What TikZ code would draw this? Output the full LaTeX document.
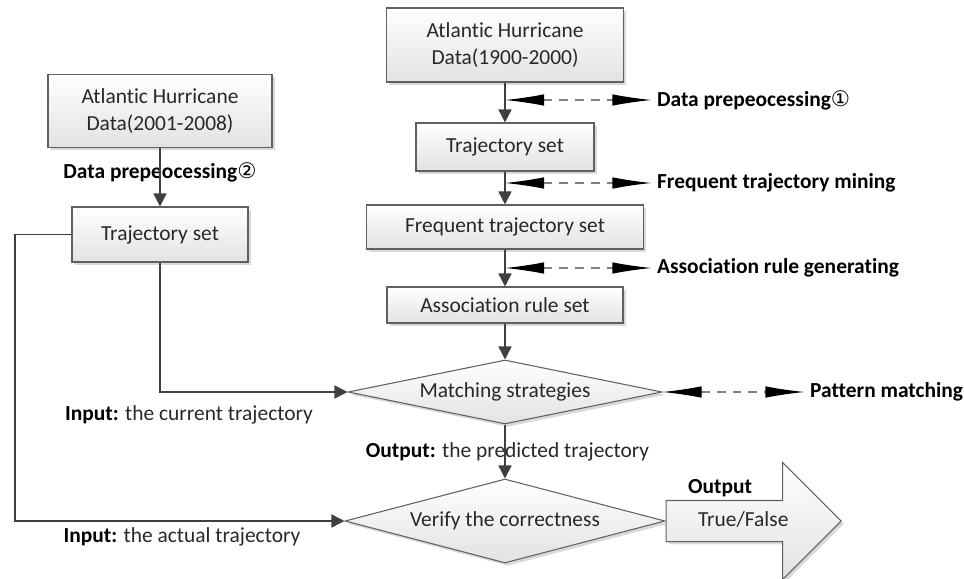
\documentclass[tikz,border=0pt]{standalone}
\usepackage{fontspec}
\setmainfont{Carlito}[Ligatures=NoCommon]
\newfontfamily\circfont{DejaVu Sans}
\usepackage{xcolor}
\usepackage{tikz}
\usetikzlibrary{arrows.meta,calc,positioning,shapes.geometric,shapes.arrows,shadows}
\definecolor{boxline}{RGB}{96,96,96}
\definecolor{boxfill}{RGB}{226,226,226}
\definecolor{flowline}{RGB}{64,64,64}
\definecolor{txt}{RGB}{40,40,40}
\newcommand{\circnum}[1]{{\circfont\mdseries #1}}

\begin{document}
\begin{tikzpicture}[
  font=\fontsize{12.2}{15.5}\selectfont,
  text=txt,
  stepbox/.style={draw=boxline, line width=0.6pt, top color=white, bottom color=boxfill, align=center, inner sep=2pt,
    drop shadow={shadow xshift=1.6pt, shadow yshift=-1.6pt, opacity=0.3}},
  decision/.style={diamond, draw=boxline, line width=0.6pt, top color=white, bottom color=boxfill, inner sep=0pt,
    drop shadow={shadow xshift=1.6pt, shadow yshift=-1.6pt, opacity=0.3}},
  outarrow/.style={single arrow, draw=boxline, line width=0.6pt, top color=white, bottom color=boxfill,
    minimum height=3.5cm, single arrow head extend=0.76cm, single arrow tip angle=90,
    text height=0.3cm, text depth=0.1cm, inner ysep=0.2cm,
    drop shadow={shadow xshift=1.6pt, shadow yshift=-1.6pt, opacity=0.3}},
  flow/.style={draw=flowline, line width=0.9pt, -{Triangle[length=2.6mm, width=2.6mm]}},
  biarrow/.style={draw=gray, line width=0.6pt, dash pattern=on 5pt off 4pt,
    {Latex[length=7.8mm, width=2.3mm, color=black]}-{Latex[length=7.8mm, width=2.3mm, color=black]}},
  steplabel/.style={font=\fontsize{12.2}{15.5}\selectfont\bfseries, text=black, inner sep=1pt},
  note/.style={inner sep=1pt}
]
\useasboundingbox (0,0) rectangle (19.28,-11.58);

% Right column: mining the rule base
\node[stepbox, minimum width=4.74cm, minimum height=1.48cm] (r1) at (10.1,-0.9) {Atlantic Hurricane\\Data(1900-2000)};
\node[stepbox, minimum width=3.56cm, minimum height=0.96cm] (r2) at (10.1,-2.94) {Trajectory set};
\node[stepbox, minimum width=5.54cm, minimum height=0.88cm] (r3) at (10.1,-4.54) {Frequent trajectory set};
\node[stepbox, minimum width=4.72cm, minimum height=0.72cm] (r4) at (10.1,-6.1) {Association rule set};
\node[decision, aspect=4.9, minimum width=6.28cm, minimum height=1.28cm] (d1) at (10.1,-7.84) {Matching strategies};
\node[decision, aspect=3.8, minimum width=6.4cm, minimum height=1.68cm] (d2) at (10.1,-10.42) {Verify the correctness};
\node[outarrow, anchor=tail] (res) at (d2.east) {True/False};

\draw[flow] (r1) -- (r2);
\draw[flow] (r2) -- (r3);
\draw[flow] (r3) -- (r4);
\draw[flow] (r4) -- (d1);
\draw[flow] (d1) -- (d2);

% Step names on the right
\node[steplabel, anchor=west] (s1) at (13.1,-2.0) {Data prepeocessing\circnum{①}};
\node[steplabel, anchor=west] (s2) at (13.1,-3.66) {Frequent trajectory mining};
\node[steplabel, anchor=west] (s3) at (13.1,-5.36) {Association rule generating};
\node[steplabel, anchor=west] (s4) at (16.16,-7.84) {Pattern matching};
\draw[biarrow] (s1.west -| r1.south) -- ([xshift=-2pt]s1.west);
\draw[biarrow] (s2.west -| r1.south) -- ([xshift=-2pt]s2.west);
\draw[biarrow] (s3.west -| r1.south) -- ([xshift=-2pt]s3.west);
\draw[biarrow] (d1.east) -- ([xshift=-2pt]s4.west);

% Left column: test data
\node[stepbox, minimum width=4.48cm, minimum height=1.46cm] (l1) at (3.2,-2.22) {Atlantic Hurricane\\Data(2001-2008)};
\node[stepbox, minimum width=3.52cm, minimum height=1.1cm] (l2) at (3.2,-4.69) {Trajectory set};
\node[steplabel] (s0) at (3.2,-3.44) {Data prepeocessing\circnum{②}};
\draw[flow] (l1) -- (l2);

\coordinate (lane) at (0.3,-4.69);
\draw[flow] (l2.south) |- (d1.west);
\draw[flow] (l2.west) -- (lane) |- (d2.west);

% Inputs and outputs
\node[note] (in1) at (3.78,-8.3) {\textbf{\color{black}Input:} the current trajectory};
\node[note] (in2) at (3.64,-10.74) {\textbf{\color{black}Input:} the actual trajectory};
\node[note] (out1) at (10.15,-9.04) {\textbf{\color{black}Output:} the predicted trajectory};
\node[steplabel] (out2) at (14.4,-9.76) {Output};
\end{tikzpicture}
\end{document}
